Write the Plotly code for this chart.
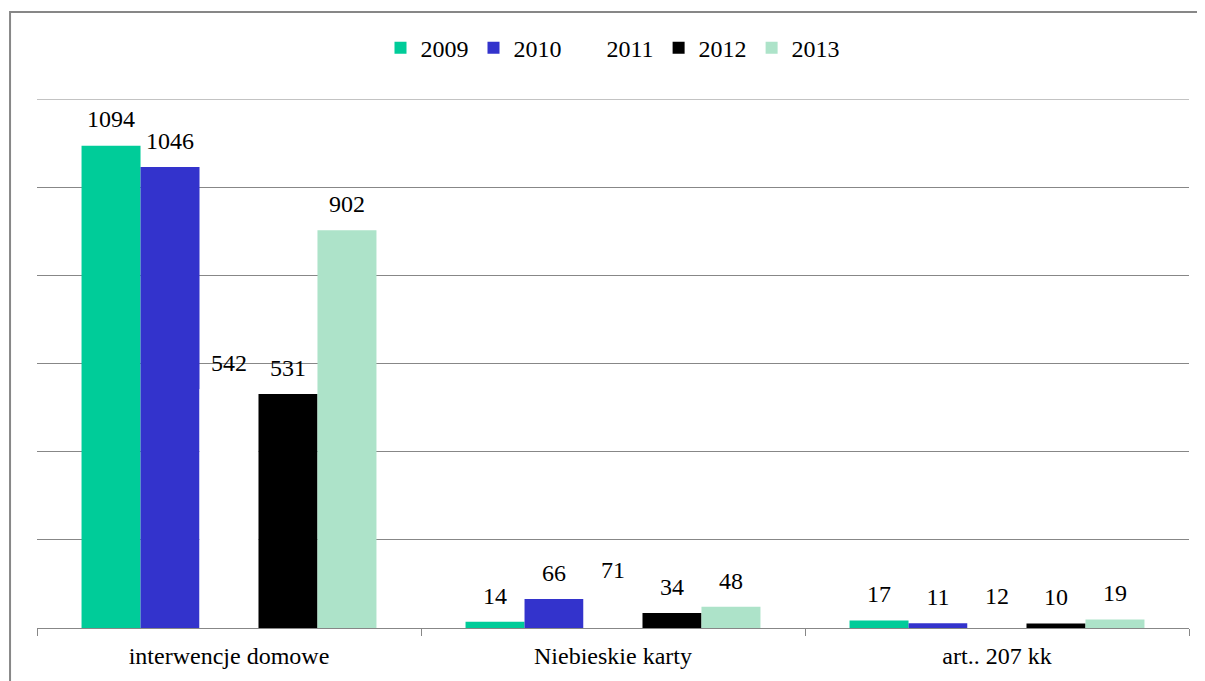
import plotly.graph_objects as go

categories = ["interwencje domowe", "Niebieskie karty", "art.. 207 kk"]
years = ["2009", "2010", "2011", "2012", "2013"]
v2009 = [1094, 14, 17]
v2010 = [1046, 66, 11]
v2011 = [542, 71, 12]
v2012 = [531, 34, 10]
v2013 = [902, 48, 19]
series = [v2009, v2010, v2011, v2012, v2013]
colors = ["#00CC99", "#3333CC", "#FFFFFF", "#000000", "#ADE3C9"]

FONT = "Liberation Serif"
BARGAP = 0.232
fig = go.Figure()
for name, vals, col in zip(years, series, colors):
    fig.add_trace(go.Bar(x=categories, y=vals, name=name, marker=dict(color=col, line=dict(width=0)),
                         showlegend=True))
for name, vals in zip(years, series):
    fig.add_trace(go.Scatter(x=categories, y=vals, mode="markers+text", text=[str(v) for v in vals],
                             orientation="v",
                             textposition="top center", marker=dict(size=18, opacity=0),
                             textfont=dict(family=FONT, size=24, color="black"),
                             showlegend=False, hoverinfo="skip", cliponaxis=False))

fig.update_layout(
    width=1197, height=673,
    margin=dict(l=29, r=16, t=91, b=53),
    paper_bgcolor="white", plot_bgcolor="white",
    barmode="group", bargap=BARGAP, bargroupgap=0,
    scattermode="group", scattergap=BARGAP,
    font=dict(family=FONT, size=24, color="black"),
    legend=dict(orientation="h", x=0.5, xanchor="center", y=1.096, yanchor="middle",
                font=dict(family=FONT, size=24, color="black"), itemwidth=30,
                bgcolor="rgba(0,0,0,0)"),
    xaxis=dict(showgrid=False, showline=True, linecolor="#878787", linewidth=1,
               ticks="outside", tickson="boundaries", ticklen=7, tickcolor="#878787",
               ticklabelstandoff=6,
               tickfont=dict(family=FONT, size=24, color="black")),
    yaxis=dict(range=[0, 1200], dtick=200, showgrid=True, gridcolor="#878787", gridwidth=1,
               showticklabels=False, zeroline=False, showline=False, ticks=""),
    shapes=[dict(type="rect", xref="paper", yref="paper", x0=-0.0234, x1=1.03, y0=-0.2, y1=1.1645,
                 line=dict(color="#878787", width=2), fillcolor="rgba(0,0,0,0)", layer="below"),
            dict(type="line", xref="paper", yref="y", x0=0, x1=1, y0=1200, y1=1200,
                 line=dict(color="#878787", width=1), layer="below")],
)
fig.write_html("out.html")
